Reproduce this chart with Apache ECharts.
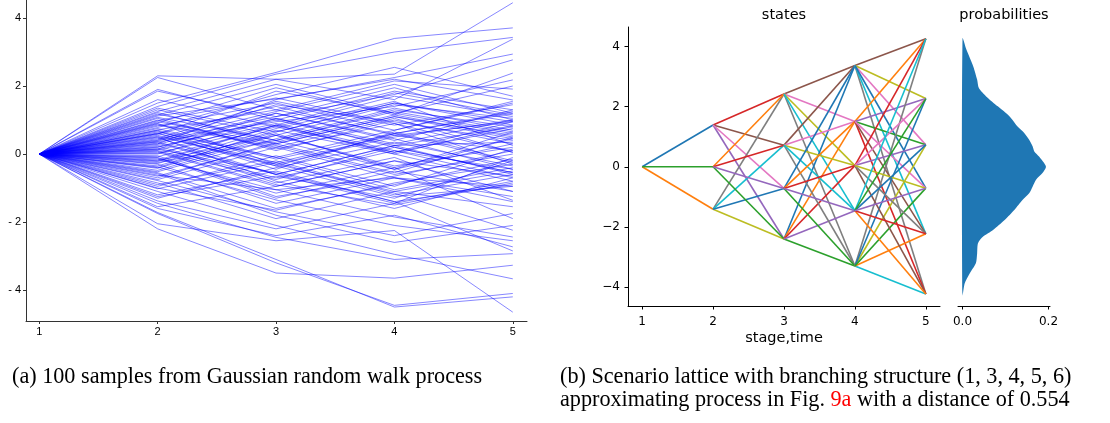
<!DOCTYPE html>
<html><head><meta charset="utf-8">
<script src="https://cdn.jsdelivr.net/npm/echarts@6/dist/echarts.min.js"></script>
<style>html,body{margin:0;padding:0;background:#fff}#c{width:1110px;height:423px}</style>
</head><body><div id="c"></div>
<script>
// ---- Panel (a): 100 Gaussian random-walk samples (value at stage 1 is 0) ----
const walkStages = [1, 2, 3, 4, 5];
const walkStart = 0;
const walkS2 = [0.35, -0.62, 1.12, 0.08, -1.45, 0.71, 2.30, -0.25, 0.55, -0.90,
 1.50, -0.10, 0.95, -1.72, 0.20, 0.62, -0.48, 1.85, -0.05, 0.40,
 -1.10, 0.85, 0.15, -0.35, 1.25, -2.20, 0.48, 0.02, -0.78, 1.05,
 0.30, -1.30, 0.68, 1.40, -0.55, 0.12, -0.20, 0.90, -1.60, 0.58,
 2.25, -0.40, 0.25, 1.18, -0.95, 0.45, -0.15, 0.78, -1.75, 0.10,
 0.65, -0.70, 1.60, -0.30, 0.38, -1.20, 0.92, 0.05, -0.52, 1.30,
 -0.08, 0.50, -2.05, 0.22, 1.00, -0.85, 0.60, 1.90, -0.42, 0.18,
 -1.02, 0.75, -0.28, 1.15, 0.32, -1.55, 0.88, -0.12, 0.42, -0.65,
 1.35, 0.00, -0.38, 0.70, -1.38, 0.28, 1.08, -0.58, 0.52, -0.18,
 0.82, -1.00, 0.14, 1.22, -0.75, 0.36, -0.22, 0.98, -1.25, 0.60];
const walkS3 = [0.95, -1.05, 1.62, -0.90, -2.45, 1.30, 2.20, 0.40, -0.35, -0.20,
 2.40, -1.30, 0.30, -3.10, 1.05, -0.45, 0.55, 1.10, -1.25, 1.45,
 -2.10, 0.20, 1.20, 0.65, 2.20, -3.50, -0.60, 0.85, -1.70, 0.10,
 1.60, -0.40, -0.35, 2.35, -1.60, 0.90, 0.55, -0.30, -2.40, 1.85,
 1.30, 0.70, -0.85, 0.40, -0.05, 1.55, -1.05, 1.75, -3.20, -0.75,
 -0.10, 0.35, 0.80, -1.45, 1.10, -0.50, 1.95, -0.95, 0.45, 0.55,
 0.80, -0.80, -2.55, 1.00, 0.15, -1.90, 1.40, 1.00, 0.60, -0.70,
 -0.25, -0.10, 0.75, 2.05, -0.60, -0.95, 0.25, -1.15, 1.25, 0.30,
 0.65, 1.05, -1.35, -0.15, -2.20, 1.20, 0.40, -1.80, -0.30, 0.85,
 1.50, -1.65, -0.55, 0.30, 0.20, -0.60, 0.85, 1.65, -0.65, -0.25];
const walkS4 = [1.40, -0.70, 2.20, -1.50, -3.10, 0.60, 2.35, -0.45, 0.60, -1.15,
 3.40, -0.50, 1.10, -4.50, 0.30, 0.65, -0.40, 1.75, -0.65, 0.95,
 -2.95, 1.05, 0.40, 1.50, 1.60, -3.65, 0.25, 0.05, -2.40, 1.00,
 2.25, 0.35, -1.25, 3.00, -0.90, 0.10, 1.45, -1.10, -1.80, 1.20,
 2.15, 0.00, -0.10, 1.30, -0.95, 0.85, -1.85, 2.55, -4.45, 0.20,
 -1.05, 1.15, 0.05, -0.70, 1.95, -1.40, 1.15, -0.20, 1.35, -0.35,
 1.70, -1.60, -2.25, 0.25, 0.90, -1.10, 0.55, 1.85, -0.45, 0.10,
 -1.20, 0.70, 1.55, 1.20, -1.45, -0.20, -0.60, -0.40, 2.05, -0.55,
 1.50, 0.20, -2.10, 0.60, -1.45, 0.45, 1.25, -2.60, 0.50, 0.00,
 0.70, -0.85, -1.40, 1.10, -0.70, 0.25, 1.80, 0.90, -1.30, 0.55];
const walkS5 = [2.18, -1.40, 1.59, -0.85, -2.93, 1.20, 4.45, 0.30, -0.25, -2.24,
 3.71, -1.10, 0.55, -4.20, 1.00, -0.20, 0.45, 2.77, 0.10, 0.40,
 -3.67, 0.05, 1.30, 0.95, 3.38, -3.27, -0.60, 0.75, -1.75, 0.30,
 2.94, -0.35, -0.95, 3.43, -0.15, -0.70, 1.05, -0.50, -2.73, 0.60,
 1.91, 0.85, -1.36, 0.80, 0.15, 1.45, -2.44, 1.70, -4.10, -0.55,
 -0.40, 0.50, 0.95, -1.25, 1.00, -0.90, 2.38, -0.65, 0.70, 0.20,
 1.10, -0.70, -4.65, 0.35, -0.30, -1.55, 0.95, 1.30, 0.65, -0.45,
 -0.60, 1.50, 0.25, 2.00, -0.80, -1.10, 0.00, -1.90, 1.20, 0.50,
 0.85, -0.55, -2.55, 1.25, -0.10, -0.45, 0.65, -2.10, 1.00, -0.80,
 1.55, -0.30, -2.85, 0.45, -0.95, 0.80, 1.15, 0.05, -0.20, 0.10];
const walkYTicks = [-4, -2, 0, 2, 4];

// ---- Panel (b): scenario lattice, states per stage (in plotting order) ----
const latticeStages = [1, 2, 3, 4, 5];
const latticeS1 = [0];
const latticeS2 = [1.39, -1.41, 0.0];
const latticeS3 = [2.42, -2.40, 0.72, -0.72];
const latticeS4 = [3.37, 1.51, -3.30, 0.04, -1.46];
const latticeS5 = [4.26, 0.73, -4.23, 2.27, -2.23, -0.71];
const latticeYTicks = [-4, -2, 0, 2, 4];

// ---- probabilities density (value, probability) ----
const densityY = [4.27, 3.90, 3.34, 2.90, 2.62, 2.34, 2.01, 1.68, 1.34, 1.12, 0.90, 0.68, 0.51, 0.34, 0.01,
 -0.21, -0.43, -0.66, -0.88, -1.10, -1.43, -1.77, -2.10, -2.32, -2.54, -2.88, -3.21, -3.54, -3.88, -4.27];
const densityP = [0, 0.009, 0.025, 0.034, 0.038, 0.055, 0.082, 0.109, 0.128, 0.144, 0.155, 0.163, 0.167, 0.178, 0.194,
 0.186, 0.171, 0.163, 0.155, 0.140, 0.121, 0.098, 0.071, 0.048, 0.036, 0.034, 0.031, 0.017, 0.005, 0];
const probTicks = [0, 0.2];

const tab10 = ['#1f77b4','#ff7f0e','#2ca02c','#d62728','#9467bd','#8c564b','#e377c2','#7f7f7f','#bcbd22','#17becf'];

const series = [];
for (let i = 0; i < walkS2.length; i++) {
  const ys = [walkStart, walkS2[i], walkS3[i], walkS4[i], walkS5[i]];
  series.push({
    type: 'line', xAxisIndex: 0, yAxisIndex: 0, silent: true, symbol: 'none',
    data: walkStages.map((s, j) => [s, ys[j]]),
    lineStyle: { color: 'rgba(0,0,255,0.47)', width: 1 }
  });
}
const lat = [latticeS1, latticeS2, latticeS3, latticeS4, latticeS5];
let k = 0;
for (let t = 0; t < lat.length - 1; t++) {
  for (const a of lat[t]) {
    for (const b of lat[t + 1]) {
      series.push({
        type: 'line', xAxisIndex: 1, yAxisIndex: 1, silent: true, symbol: 'none',
        data: [[latticeStages[t], a], [latticeStages[t + 1], b]],
        lineStyle: { color: tab10[k % 10], width: 1.6 }
      });
      k++;
    }
  }
}
series.push({
  type: 'custom', xAxisIndex: 2, yAxisIndex: 2, silent: true, clip: false,
  data: densityY.map((y, i) => [densityP[i], y]),
  renderItem: function (params, api) {
    if (params.dataIndex !== 0) return null;
    const pts = densityY.map((y, i) => api.coord([densityP[i], y]));
    return { type: 'polygon', shape: { points: pts, smooth: 0.25 }, style: { fill: '#1f77b4' } };
  }
});

const mplFont = 'DejaVu Sans';
function mplAxis(opts) {
  return Object.assign({
    type: 'value', splitLine: { show: false },
    axisLine: { show: true, onZero: false, lineStyle: { color: '#000', width: 1 } },
  }, opts);
}

const chart = echarts.init(document.getElementById('c'), null, { renderer: 'canvas' });
chart.setOption({
  animation: false,
  backgroundColor: '#fff',
  grid: [
    { left: 26, top: 0, width: 501, height: 321, containLabel: false, outerBoundsMode: 'none' },
    { left: 628, top: 27, width: 312, height: 279, containLabel: false, outerBoundsMode: 'none' },
    { left: 958, top: 27, width: 92, height: 279, containLabel: false, outerBoundsMode: 'none' }
  ],
  xAxis: [
    { type: 'value', gridIndex: 0, min: 0.888, max: 5.12, splitLine: { show: false },
      axisLine: { show: true, onZero: false, lineStyle: { color: '#333', width: 1 } },
      axisTick: { show: true, length: 3, lineStyle: { color: '#333' }, customValues: walkStages },
      axisLabel: { customValues: walkStages, margin: 5, fontFamily: 'Liberation Sans', fontSize: 11, color: '#000',
        formatter: v => String(v) } },
    mplAxis({ gridIndex: 1, min: 0.8, max: 5.2,
      axisTick: { show: true, length: 3.5, lineStyle: { color: '#000' }, customValues: latticeStages },
      axisLabel: { customValues: latticeStages, margin: 10, fontFamily: mplFont, fontSize: 12, color: '#000',
        formatter: v => String(v) } }),
    mplAxis({ gridIndex: 2, min: -0.0105, max: 0.2035,
      axisTick: { show: true, length: 3.5, lineStyle: { color: '#000' }, customValues: probTicks },
      axisLabel: { customValues: probTicks, margin: 10, fontFamily: mplFont, fontSize: 12, color: '#000',
        formatter: v => v.toFixed(1) } })
  ],
  yAxis: [
    { type: 'value', gridIndex: 0, min: -4.91, max: 4.53, splitLine: { show: false },
      axisLine: { show: true, onZero: false, lineStyle: { color: '#333', width: 1 } },
      axisTick: { show: true, length: 3, lineStyle: { color: '#333' }, customValues: walkYTicks },
      axisLabel: { customValues: walkYTicks, margin: 5, fontFamily: 'Liberation Sans', fontSize: 11, color: '#000',
        formatter: v => v < 0 ? '- ' + Math.abs(v) : String(v) } },
    mplAxis({ gridIndex: 1, min: -4.63, max: 4.65,
      axisTick: { show: true, length: 3.5, lineStyle: { color: '#000' }, customValues: latticeYTicks },
      axisLabel: { customValues: latticeYTicks, margin: 8, fontFamily: mplFont, fontSize: 12, color: '#000',
        formatter: v => v < 0 ? '\u2212' + Math.abs(v) : String(v) } }),
    { type: 'value', gridIndex: 2, min: -4.63, max: 4.65, show: false }
  ],
  series: series,
  graphic: [
    { type: 'text', x: 784, y: 15, style: { text: 'states', textAlign: 'center', textVerticalAlign: 'middle',
      font: '14.5px "DejaVu Sans"', fill: '#000' } },
    { type: 'text', x: 1004, y: 15, style: { text: 'probabilities', textAlign: 'center', textVerticalAlign: 'middle',
      font: '14.5px "DejaVu Sans"', fill: '#000' } },
    { type: 'text', x: 784, y: 338, style: { text: 'stage,time', textAlign: 'center', textVerticalAlign: 'middle',
      font: '14.5px "DejaVu Sans"', fill: '#000' } },
    { type: 'text', x: 12, y: 377, style: { text: '(a) 100 samples from Gaussian random walk process', textAlign: 'left',
      textVerticalAlign: 'middle', font: '22.2px "Liberation Serif"', fill: '#000' } },
    { type: 'text', x: 560, y: 377, style: { text: '(b) Scenario lattice with branching structure (1, 3, 4, 5, 6)', textAlign: 'left',
      textVerticalAlign: 'middle', font: '22.2px "Liberation Serif"', fill: '#000' } },
    { type: 'text', x: 560, y: 400, style: { text: 'approximating process in Fig. {r|9a} with a distance of 0.554', textAlign: 'left',
      textVerticalAlign: 'middle', font: '22.2px "Liberation Serif"', fill: '#000',
      rich: { r: { fill: '#ff0000', font: '22.2px "Liberation Serif"' } } } }
  ]
});
</script></body></html>
